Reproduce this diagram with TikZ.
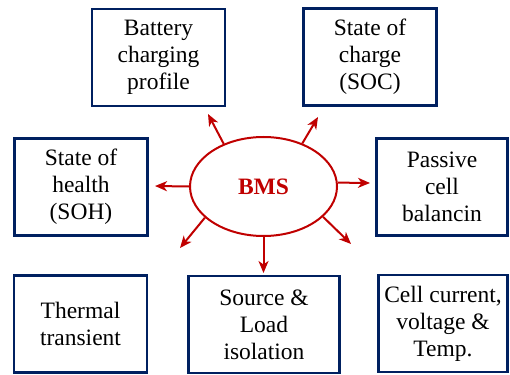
\documentclass[tikz,border=0pt]{standalone}
\usepackage{fontspec}
\setmainfont{Liberation Serif}
\usepackage{tikz}
\usetikzlibrary{arrows.meta, shapes.geometric}
\definecolor{boxblue}{RGB}{0,32,96}
\definecolor{bmsred}{RGB}{192,0,0}

\begin{document}
\begin{tikzpicture}[x=1pt,y=1pt,>={Stealth[length=12pt,width=10pt,inset=3.5pt]},
      infobox/.style={draw=boxblue,line width=2.2pt,minimum width=133pt,minimum height=97pt,
        align=center,inner sep=1pt,font=\fontsize{23.5}{27}\selectfont},
      bmsarrow/.style={->,draw=bmsred,line width=2pt}]
  \useasboundingbox (0,0) rectangle (510,-374);
  \node[ellipse, draw=bmsred, line width=2pt, minimum width=147pt, minimum height=99pt,
        text=bmsred, font=\bfseries\fontsize{23.5}{27}\selectfont] (bms) at (263.5,-186.5) {BMS};
  % top row
  \node[infobox] (charging) at (158.5,-57.5) {Battery\\charging\\profile};
  \node[infobox] (soc) at (370,-57) {State of\\charge\\(SOC)};
  % middle row
  \node[infobox] (soh) at (81,-187) {State of\\health\\(SOH)};
  \node[infobox, minimum width=131pt] (balancing) at (442,-187) {Passive\\cell\\balancin};
  % bottom row
  \node[infobox] (thermal) at (80.5,-324) {Thermal\\transient};
  \node[infobox, minimum width=151pt] (isolation) at (264,-324.5) {Source \&\\Load\\isolation};
  \node[infobox, minimum width=129pt] (sensing) at (443,-323.5) {Cell current,\\voltage \&\\Temp.};
  % free arrow ends
  \coordinate (to_charging) at (208,-114);
  \coordinate (to_soc) at (318,-117);
  \coordinate (to_soh) at (155,-186);
  \coordinate (to_balancing) at (370,-183);
  \coordinate (to_thermal) at (180,-248);
  \coordinate (to_isolation) at (263.5,-273);
  \coordinate (to_sensing) at (351,-244);
  \draw[bmsarrow] (bms.133) -- (to_charging);
  \draw[bmsarrow] (bms.48) -- (to_soc);
  \draw[bmsarrow] (bms.180) -- (to_soh);
  \draw[bmsarrow] (bms.3) -- (to_balancing);
  \draw[bmsarrow] (bms.208) -- (to_thermal);
  \draw[bmsarrow] (bms.270) -- (to_isolation);
  \draw[bmsarrow] (bms.333) -- (to_sensing);
\end{tikzpicture}
\end{document}
